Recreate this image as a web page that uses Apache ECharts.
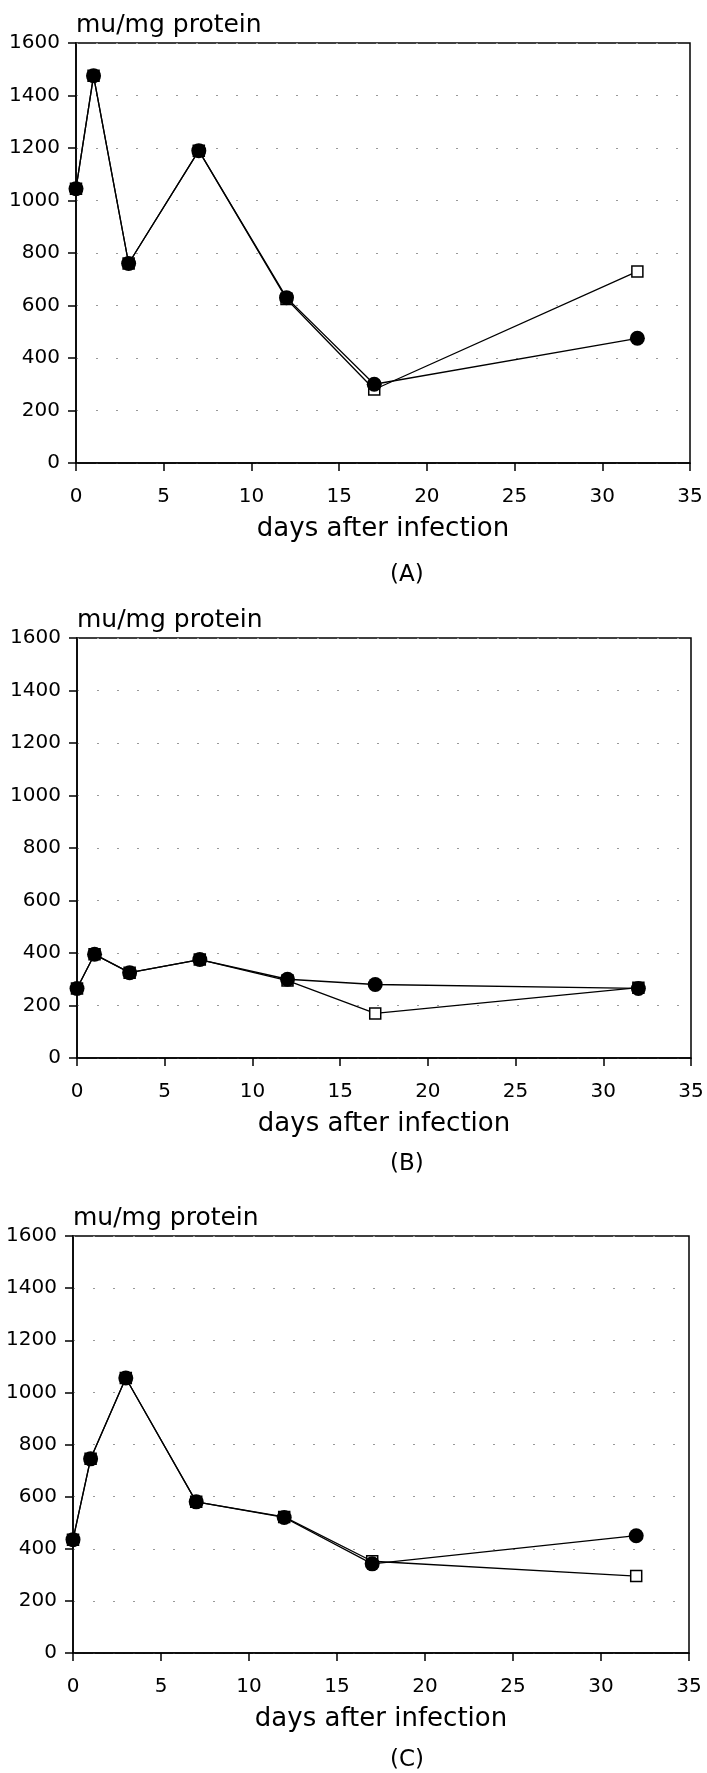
<!DOCTYPE html>
<html>
<head>
<meta charset="utf-8">
<script src="https://cdn.jsdelivr.net/npm/echarts@6/dist/echarts.min.js"></script>
<style>html,body{margin:0;padding:0;background:#fff}#c{width:707px;height:1773px}</style>
</head>
<body>
<div id="c"></div>
<script>
// ---- data ----
const days = [0, 1, 3, 7, 12, 17, 32];
const panelLabels = ['(A)', '(B)', '(C)'];
const xTicks = { min: 0, max: 35, interval: 5 };
const yTicks = { min: 0, max: 1600, interval: 200 };
const yAxisName = 'mu/mg protein';
const xAxisName = 'days after infection';

const A_circles = [1045, 1475, 760, 1190, 630, 300, 475];
const A_squares = [1045, 1475, 760, 1190, 625, 280, 730];
const B_circles = [265, 395, 325, 375, 300, 280, 265];
const B_squares = [265, 395, 325, 375, 295, 170, 268];
const C_circles = [435, 745, 1055, 580, 520, 342, 450];
const C_squares = [435, 745, 1055, 580, 522, 352, 295];

const circleSets = [A_circles, B_circles, C_circles];
const squareSets = [A_squares, B_squares, C_squares];

// ---- layout ----
const FONT = 'DejaVu Sans';
const grids = [
  { left: 76, top: 43, width: 614, height: 420 },
  { left: 77, top: 638, width: 614, height: 420 },
  { left: 73, top: 1236, width: 616, height: 417 }
];
const titlePos = [
  { left: 390, top: 564 },
  { left: 390, top: 1153 },
  { left: 390, top: 1749 }
];

const option = {
  animation: false,
  backgroundColor: '#fff',
  title: panelLabels.map((t, i) => ({
    text: t, left: titlePos[i].left, top: titlePos[i].top, padding: 0,
    textStyle: { fontFamily: FONT, fontSize: 23, fontWeight: 'normal', color: '#000' }
  })),
  grid: grids.map(g => Object.assign({ show: true, borderColor: '#000', borderWidth: 1.5, backgroundColor: 'transparent' }, g)),
  xAxis: grids.map((g, i) => ({
    type: 'value', gridIndex: i, min: xTicks.min, max: xTicks.max, interval: xTicks.interval,
    name: xAxisName, nameLocation: 'middle', nameGap: 53,
    nameTextStyle: { fontFamily: FONT, fontSize: 26, color: '#000' },
    axisLine: { show: true, onZero: false, lineStyle: { color: '#000', width: 1.5 } },
    axisTick: { show: true, inside: false, length: 8, lineStyle: { color: '#000', width: 1.5 } },
    axisLabel: { fontFamily: FONT, fontSize: 20, color: '#000', margin: 24, formatter: v => String(v) },
    splitLine: { show: false }
  })),
  yAxis: grids.map((g, i) => ({
    type: 'value', gridIndex: i, min: yTicks.min, max: yTicks.max, interval: yTicks.interval,
    name: yAxisName, nameLocation: 'end', nameGap: 5,
    nameTextStyle: { fontFamily: FONT, fontSize: 25, color: '#000', align: 'left', verticalAlign: 'bottom' },
    axisLine: { show: true, lineStyle: { color: '#000', width: 1.5 } },
    axisTick: { show: true, inside: false, length: 8, lineStyle: { color: '#000', width: 1.5 } },
    axisLabel: { fontFamily: FONT, fontSize: 20, color: '#000', margin: 16, formatter: v => String(v) },
    splitLine: { show: true, lineStyle: { color: '#999', width: 1, type: [2, 18] } }
  })),
  series: []
};

for (let i = 0; i < 3; i++) {
  option.series.push({
    type: 'line', xAxisIndex: i, yAxisIndex: i,
    data: days.map((d, k) => [d, squareSets[i][k]]),
    symbol: 'rect', symbolSize: 11, showAllSymbol: true,
    lineStyle: { color: '#000', width: 1.3 },
    itemStyle: { color: '#fff', borderColor: '#000', borderWidth: 1.5 },
    z: 2
  });
  option.series.push({
    type: 'line', xAxisIndex: i, yAxisIndex: i,
    data: days.map((d, k) => [d, circleSets[i][k]]),
    symbol: 'circle', symbolSize: 15, showAllSymbol: true,
    lineStyle: { color: '#000', width: 1.3 },
    itemStyle: { color: '#000', borderColor: '#000', borderWidth: 0 },
    z: 3
  });
}

const chart = echarts.init(document.getElementById('c'), null, { renderer: 'canvas' });
chart.setOption(option);
</script>
</body>
</html>
